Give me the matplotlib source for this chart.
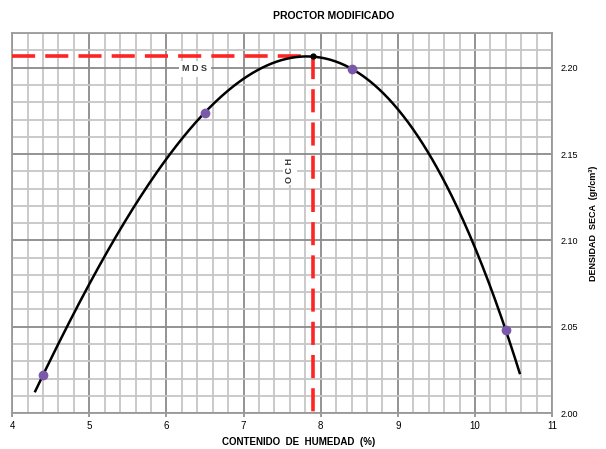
import numpy as np
import matplotlib
matplotlib.use("Agg")
import matplotlib.pyplot as plt
from matplotlib.ticker import MultipleLocator

plt.rcParams['font.family'] = ['Liberation Sans', 'DejaVu Sans']

humedad = [4.4, 6.5, 8.4, 10.4]
densidad = [2.022, 2.174, 2.199, 2.048]
och = 7.9
mds = 2.207
curve_range = [4.3, 10.58]

fig = plt.figure(figsize=(6.06, 4.49), dpi=100)
ax = fig.add_axes([0.020, 0.080, 0.891, 0.846])

# trend curve (polynomial fit of measured points and the optimum)
coef = np.polyfit(humedad + [och], densidad + [mds], 3)
xs = np.linspace(curve_range[0], curve_range[1], 300)
ax.plot(xs, np.polyval(coef, xs), color='black', lw=1.8, zorder=4)

ax.plot(humedad, densidad, 'o', color='#7a5aa8', ms=6, zorder=5)
ax.plot([och], [mds], 'o', color='black', ms=3.5, zorder=6)

ax.plot([4, och], [mds, mds], color='#ff2424', lw=2.6, dashes=(6.4, 2.8), zorder=3)
ax.plot([och, och], [mds, 2.0], color='#ff2424', lw=2.6, dashes=(6.4, 2.8), zorder=3)

ax.text(6.37, 2.1995, 'M D S', fontsize=6.5, fontweight='bold', ha='center', va='center',
        color='#333333', bbox=dict(facecolor='white', edgecolor='none', pad=2.5), zorder=5)
ax.text(7.6, 2.1407, 'O C H', fontsize=6.5, fontweight='bold', ha='center', va='center',
        color='#333333', rotation=90,
        bbox=dict(facecolor='white', edgecolor='none', pad=2.0), zorder=5)

ax.set_xlim(4, 11)
ax.set_ylim(2.00, 2.22)
ax.xaxis.set_major_locator(MultipleLocator(1))
ax.xaxis.set_minor_locator(MultipleLocator(0.2))
ax.yaxis.set_major_locator(MultipleLocator(0.05))
ax.yaxis.set_minor_locator(MultipleLocator(0.01))
ax.grid(which='major', color='#8a8a8a', lw=1.3, zorder=0)
ax.grid(which='minor', color='#c6c6c6', lw=1.3, zorder=0)
ax.set_axisbelow(True)

ax.yaxis.tick_right()
ax.yaxis.set_label_position('right')
ax.tick_params(axis='both', which='minor', length=0)
ax.tick_params(axis='x', which='major', length=3, width=1.2, color='#8a8a8a',
               labelsize=7, pad=3)
ax.tick_params(axis='y', which='major', length=0, labelsize=6.5, pad=6)
ax.set_yticklabels([f'{v:.2f}' for v in ax.get_yticks()])
for s in ax.spines.values():
    s.set_color('#9a9a9a')
    s.set_linewidth(1.3)

ax.set_xlabel('CONTENIDO  DE  HUMEDAD  (%)', fontsize=7, fontweight='bold', labelpad=4, x=0.53)
ax.set_ylabel('DENSIDAD  SECA  (gr/cm³)', fontsize=6.5, fontweight='bold', labelpad=8)
ax.set_title('PROCTOR MODIFICADO', fontsize=7.5, fontweight='bold', pad=10, x=0.595)

fig.savefig('out.png', dpi=100)
